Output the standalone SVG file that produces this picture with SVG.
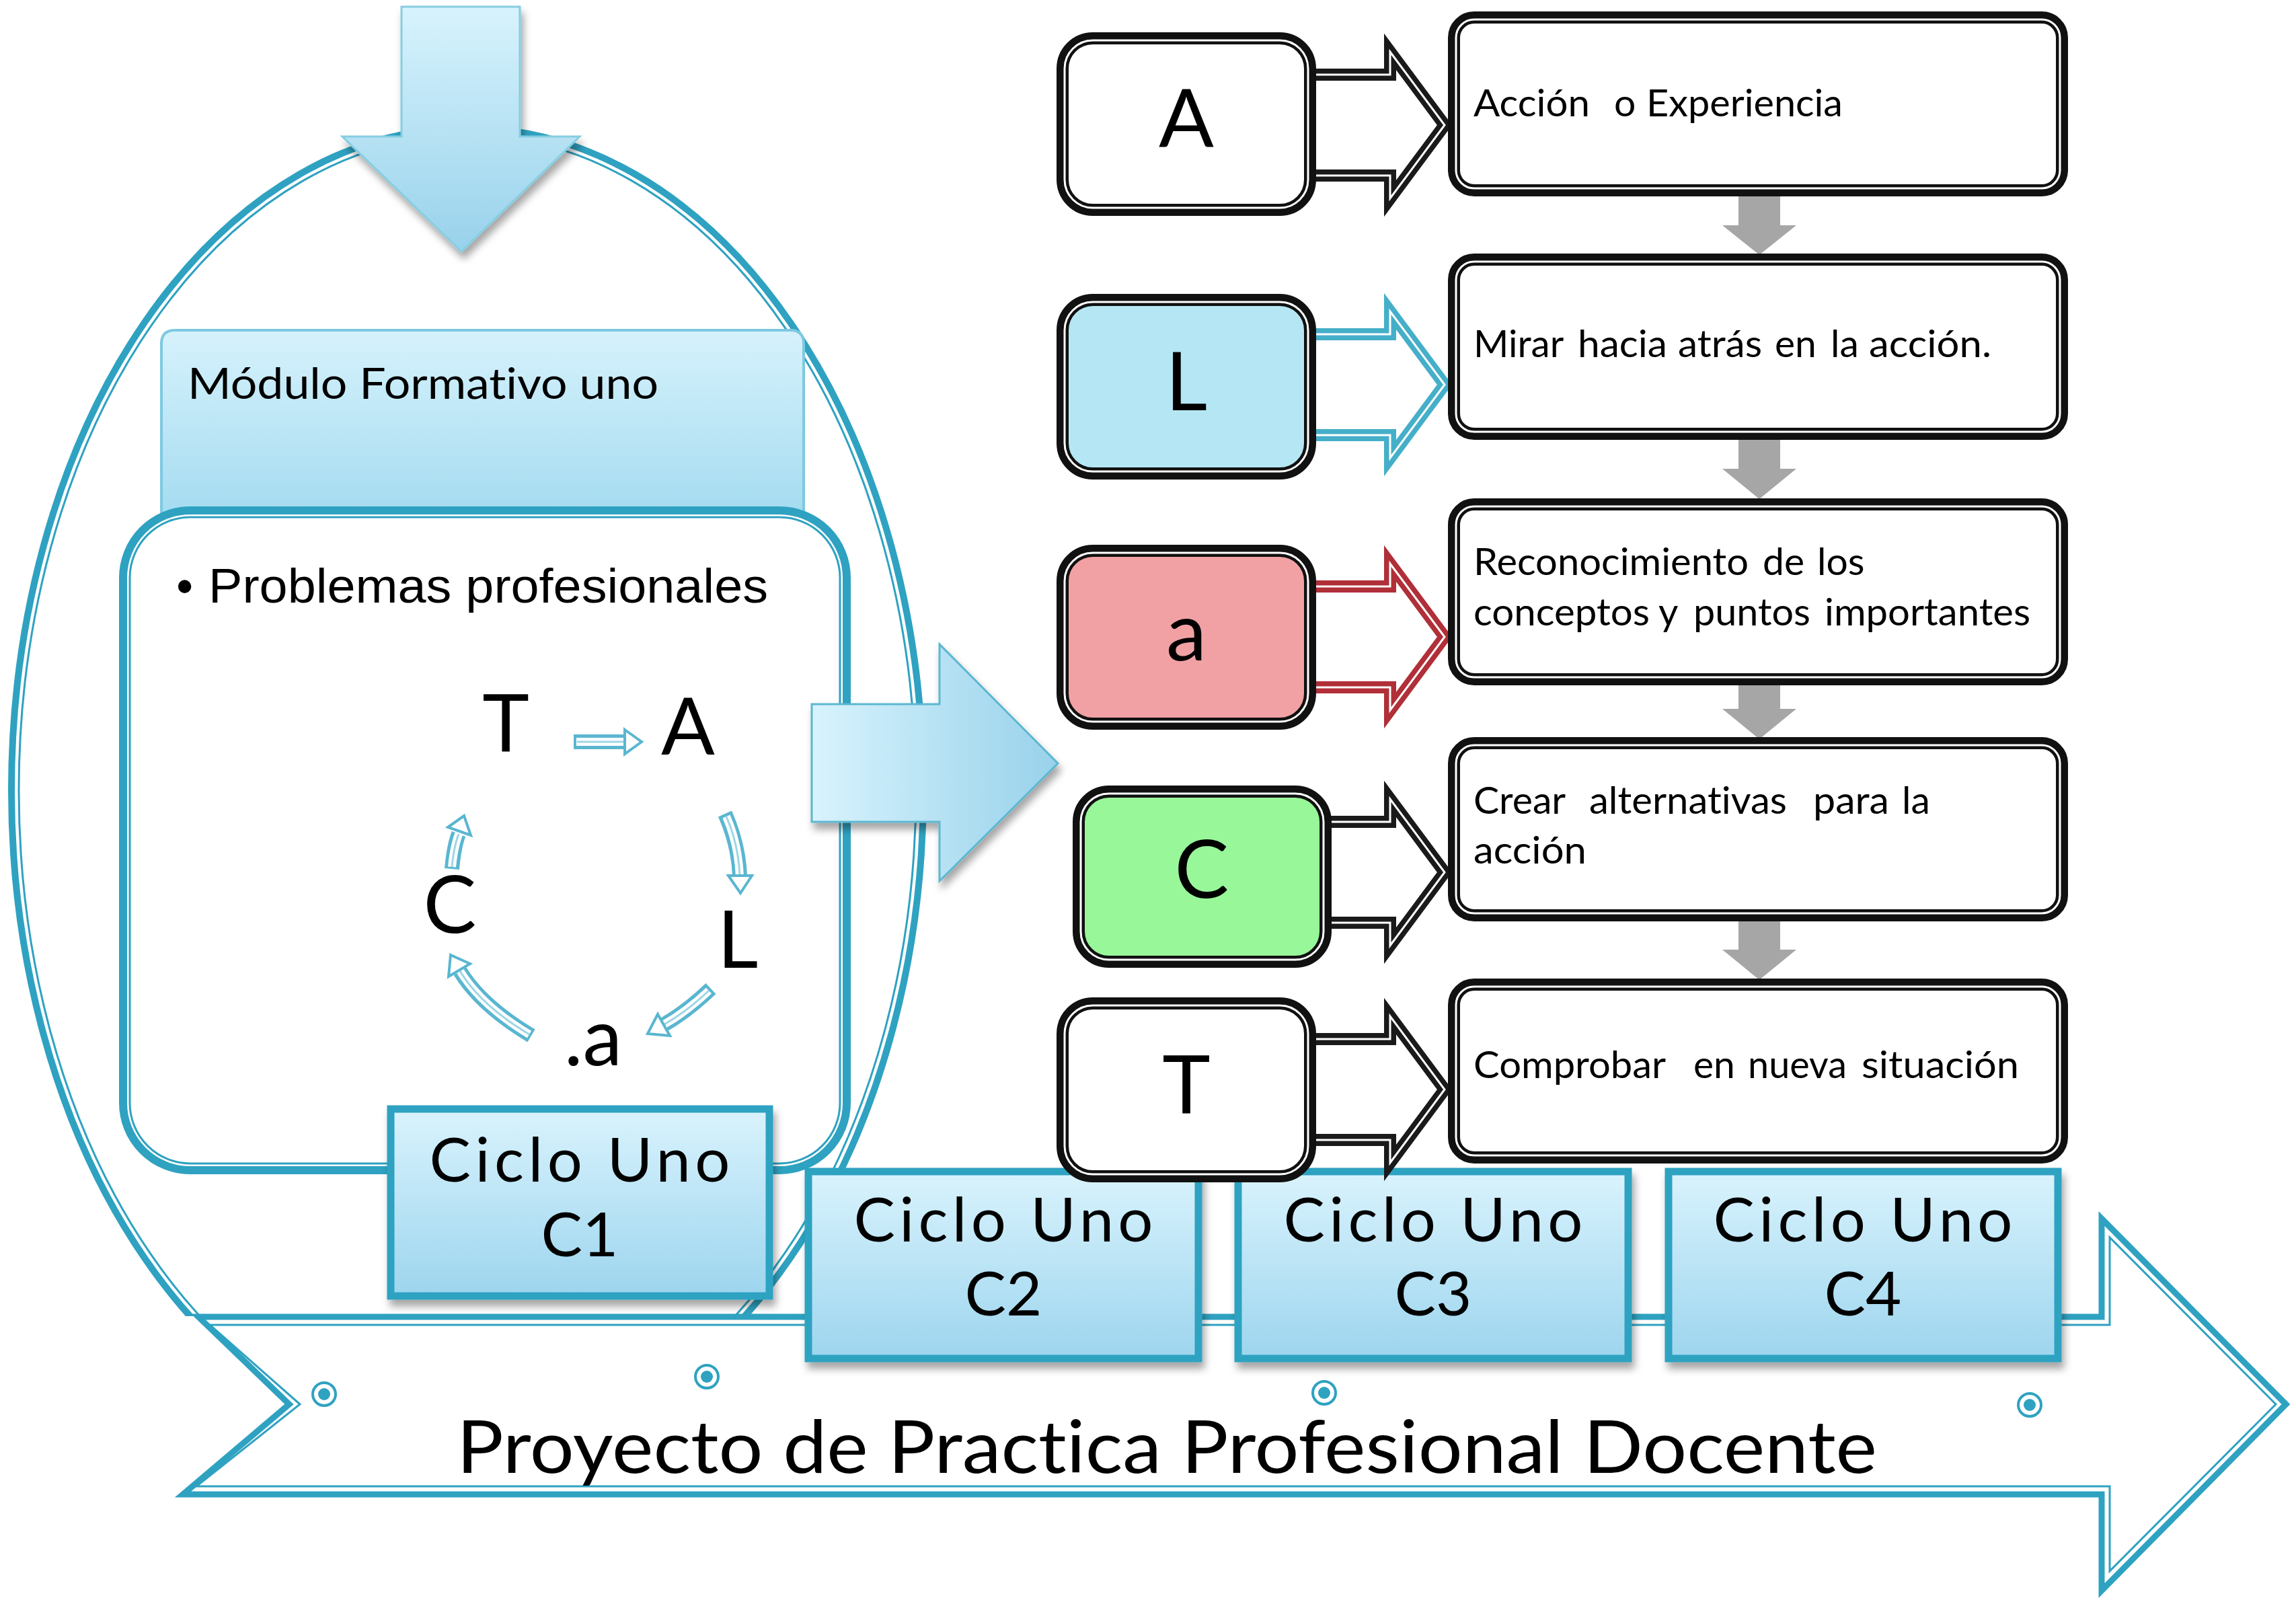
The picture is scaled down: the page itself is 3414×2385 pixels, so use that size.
<svg xmlns="http://www.w3.org/2000/svg" width="3414" height="2385" viewBox="0 0 3414 2385">
<style>
text{font-variant-ligatures:none;font-feature-settings:"liga" 0,"clig" 0;}
.teal{fill:none;stroke:#2FA2C1;}
.lbl{font-family:Lato,"Liberation Sans",sans-serif;fill:#000;}
.big{font-size:121px;text-anchor:middle;}
.desc{font-size:57px;}
.ciclo{font-size:92px;text-anchor:middle;}
.cyc{font-size:118px;text-anchor:middle;}
.lbox{stroke:#111;stroke-width:18;}
.lboxin{fill:none;stroke:#fff;stroke-width:3;}
.cbox{fill:url(#gCiclo);stroke:#2FA2C1;stroke-width:11;filter:url(#sh);}
.garrow{fill:#A6A6A6;}
.blk{stroke-width:18;stroke-linejoin:miter;fill:#fff;}
.blkin{fill:none;stroke:#fff;stroke-width:3;}
.cshaft{fill:none;stroke:#5AB6D0;stroke-width:22;}
.cshaftin{fill:none;stroke:#fff;stroke-width:12;}
.cshaftmid{fill:none;stroke:#9ED6E6;stroke-width:3;}
.chead{fill:#fff;stroke:#5AB6D0;stroke-width:4;stroke-linejoin:miter;}
</style>
<defs>
<linearGradient id="gCiclo" x1="0" y1="0" x2="0" y2="1">
<stop offset="0" stop-color="#D9F3FD"/><stop offset="1" stop-color="#9DD5EE"/>
</linearGradient>
<linearGradient id="gMod" x1="0" y1="0" x2="0" y2="1">
<stop offset="0" stop-color="#D6F2FC"/><stop offset="1" stop-color="#A4DBF0"/>
</linearGradient>
<linearGradient id="gDown" x1="0" y1="0" x2="0" y2="1">
<stop offset="0" stop-color="#D8F3FD"/><stop offset="1" stop-color="#98D2EB"/>
</linearGradient>
<linearGradient id="gRight" x1="0" y1="0" x2="1" y2="0">
<stop offset="0" stop-color="#D8F3FD"/><stop offset="1" stop-color="#98D2EB"/>
</linearGradient>
<filter id="sh" x="-10%" y="-10%" width="130%" height="140%">
<feDropShadow dx="4" dy="10" stdDeviation="6" flood-color="#000" flood-opacity="0.35"/>
</filter>
<clipPath id="eggClip"><rect x="0" y="0" width="3414" height="1957"/></clipPath>
</defs>
<rect width="3414" height="2385" fill="#fff"/>

<!-- Egg outline -->
<g id="egg" clip-path="url(#eggClip)">
<ellipse cx="695" cy="1175" rx="678" ry="985" class="teal" stroke-width="10"/>
<ellipse cx="695" cy="1175" rx="667" ry="974" class="teal" stroke-width="3"/>
</g>

<!-- Top down arrow -->
<g id="down-arrow">
<polygon points="597,10 773,10 773,203 862,203 686,374 509,203 597,203" fill="url(#gDown)" stroke="#86CDE2" stroke-width="3" filter="url(#sh)"/>
</g>

<!-- Modulo box -->
<g id="modulo">
<path d="M240,770 V511 Q240,491 260,491 H1175 Q1195,491 1195,511 V770 Z" fill="url(#gMod)" stroke="#7EC9E0" stroke-width="4"/>
<text class="lbl" x="279" y="593" font-size="63" textLength="700" lengthAdjust="spacingAndGlyphs">Módulo Formativo uno</text>
</g>

<!-- Inner box -->
<g id="problemas">
<rect x="183" y="759" width="1076" height="981" rx="100" fill="#fff" stroke="#2FA2C1" stroke-width="12"/>
<rect x="193" y="769" width="1056" height="961" rx="90" fill="none" stroke="#2FA2C1" stroke-width="3"/>
<text x="262" y="896" font-family="'Liberation Sans',Arial,sans-serif" font-size="72" fill="#000">•</text>
<text x="310" y="896" font-family="'Liberation Sans',Arial,sans-serif" font-size="72" fill="#000" textLength="832" lengthAdjust="spacingAndGlyphs">Problemas profesionales</text>
</g>

<!-- cycle letters -->
<g id="cycle-T"><text class="lbl cyc" x="752" y="1117" font-size="110">T</text></g>
<g id="cycle-A"><text class="lbl cyc" x="1023" y="1122" font-size="127">A</text></g>
<g id="cycle-C"><text class="lbl cyc" x="669" y="1387" font-size="107">C</text></g>
<g id="cycle-L"><text class="lbl cyc" x="1097" y="1439" font-size="127">L</text></g>
<g id="cycle-a"><text class="lbl cyc" x="882" y="1584" font-size="105">.a</text></g>

<!-- Right big arrow -->
<g id="right-arrow">
<polygon points="1207,1047 1397,1047 1397,958 1573,1135 1397,1310 1397,1222 1207,1222" fill="url(#gRight)" stroke="#5DB7D1" stroke-width="3" filter="url(#sh)"/>
</g>

<!-- Bottom big arrow -->
<g id="proyecto">
<polygon points="295,1958 3125,1958 3125,1812 3399,2088 3125,2365 3125,2222 272,2222 430,2088" fill="#fff" stroke="#2FA2C1" stroke-width="9" stroke-linejoin="miter"/>
<polygon points="312,1970 3137,1970 3137,1840 3384,2088 3137,2336 3137,2210 292,2210 446,2088" fill="none" stroke="#2FA2C1" stroke-width="3" stroke-linejoin="miter"/>
<g fill="#fff" stroke="#2FA2C1" stroke-width="4">
<circle cx="482" cy="2073" r="17"/><circle cx="1051" cy="2047" r="17"/><circle cx="1969" cy="2071" r="17"/><circle cx="3018" cy="2089" r="17"/>
</g>
<g fill="#2FA2C1">
<circle cx="482" cy="2073" r="9"/><circle cx="1051" cy="2047" r="9"/><circle cx="1969" cy="2071" r="9"/><circle cx="3018" cy="2089" r="9"/>
</g>
<text class="lbl" x="679" y="2190" font-size="108" textLength="2112" lengthAdjust="spacingAndGlyphs">Proyecto de Practica Profesional Docente</text>
</g>

<!-- Ciclo boxes -->
<g id="ciclo1">
<rect x="581" y="1649" width="563" height="278" class="cbox"/>
<text class="lbl ciclo" x="862" y="1757" textLength="447" lengthAdjust="spacing">Ciclo Uno</text>
<text class="lbl ciclo" x="862" y="1868">C1</text>
</g>
<g id="ciclo2">
<rect x="1202" y="1742" width="580" height="278" class="cbox"/>
<text class="lbl ciclo" x="1492" y="1846" textLength="445" lengthAdjust="spacing">Ciclo Uno</text>
<text class="lbl ciclo" x="1492" y="1956">C2</text>
</g>
<g id="ciclo3">
<rect x="1841" y="1742" width="580" height="278" class="cbox"/>
<text class="lbl ciclo" x="2131" y="1846" textLength="445" lengthAdjust="spacing">Ciclo Uno</text>
<text class="lbl ciclo" x="2131" y="1956">C3</text>
</g>
<g id="ciclo4">
<rect x="2481" y="1742" width="579" height="278" class="cbox"/>
<text class="lbl ciclo" x="2770" y="1846" textLength="445" lengthAdjust="spacing">Ciclo Uno</text>
<text class="lbl ciclo" x="2770" y="1956">C4</text>
</g>

<!-- Connectors -->
<g id="connectors">
<!-- cycle arrows -->
<path class="cshaft" d="M853,1103 H930"/><path class="cshaftin" d="M857,1103 H932"/><path class="cshaftmid" d="M858,1103 H930"/>
<polygon class="chead" points="929,1085 954,1103 929,1121"/>
<path class="cshaft" d="M1078,1210 Q1098,1255 1100,1302"/><path class="cshaftin" d="M1080,1214 Q1098,1255 1100,1304"/><path class="cshaftmid" d="M1080,1214 Q1098,1255 1100,1302"/>
<polygon class="chead" points="1083,1302 1101,1328 1118,1302"/>
<path class="cshaft" d="M1057,1470 Q1020,1505 988,1523"/><path class="cshaftin" d="M1054,1473 Q1020,1505 986,1524"/><path class="cshaftmid" d="M1054,1473 Q1020,1505 988,1523"/>
<polygon class="chead" points="996,1540 963,1537 978,1508"/>
<path class="cshaft" d="M790,1540 Q715,1495 684,1444"/><path class="cshaftin" d="M787,1538 Q715,1495 683,1442"/><path class="cshaftmid" d="M787,1538 Q715,1495 684,1444"/>
<polygon class="chead" points="699,1433 670,1420 667,1452"/>
<path class="cshaft" d="M672,1292 Q675,1258 682,1240"/><path class="cshaftin" d="M672,1289 Q675,1258 683,1238"/><path class="cshaftmid" d="M672,1289 Q675,1258 682,1240"/>
<polygon class="chead" points="700,1242 690,1213 666,1230"/>

<!-- block arrows letter -> description -->
<polygon class="blk" stroke="#1A1A1A" points="1935,111 2067,111 2067,77 2148,186 2067,295 2067,261 1935,261"/>
<polygon class="blkin" points="1935,111 2067,111 2067,77 2148,186 2067,295 2067,261 1935,261"/>
<polygon class="blk" stroke="#45AFC9" points="1935,497 2067,497 2067,463 2148,572 2067,681 2067,647 1935,647"/>
<polygon class="blkin" points="1935,497 2067,497 2067,463 2148,572 2067,681 2067,647 1935,647"/>
<polygon class="blk" stroke="#B02F38" points="1935,872 2067,872 2067,838 2148,947 2067,1056 2067,1022 1935,1022"/>
<polygon class="blkin" points="1935,872 2067,872 2067,838 2148,947 2067,1056 2067,1022 1935,1022"/>
<polygon class="blk" stroke="#1A1A1A" points="1960,1222 2067,1222 2067,1188 2148,1297 2067,1406 2067,1372 1960,1372"/>
<polygon class="blkin" points="1960,1222 2067,1222 2067,1188 2148,1297 2067,1406 2067,1372 1960,1372"/>
<polygon class="blk" stroke="#1A1A1A" points="1935,1545 2067,1545 2067,1511 2148,1620 2067,1729 2067,1695 1935,1695"/>
<polygon class="blkin" points="1935,1545 2067,1545 2067,1511 2148,1620 2067,1729 2067,1695 1935,1695"/>

<!-- gray arrows between descriptions -->
<polygon class="garrow" points="2585,289 2647,289 2647,335 2671,335 2616,379 2561,335 2585,335"/>
<polygon class="garrow" points="2585,651 2647,651 2647,697 2671,697 2616,742 2561,697 2585,697"/>
<polygon class="garrow" points="2585,1016 2647,1016 2647,1054 2671,1054 2616,1099 2561,1054 2585,1054"/>
<polygon class="garrow" points="2585,1367 2647,1367 2647,1412 2671,1412 2616,1457 2561,1412 2585,1412"/>
</g>

<!-- Letter boxes -->
<g id="box-A">
<rect x="1580" y="57" width="368" height="255" rx="45" fill="#fff" class="lbox"/>
<rect x="1583" y="60" width="362" height="249" rx="42" class="lboxin"/>
<text class="lbl big" x="1764" y="219">A</text>
</g>
<g id="box-L">
<rect x="1580" y="446" width="368" height="258" rx="45" fill="#B4E7F3" class="lbox"/>
<rect x="1583" y="449" width="362" height="252" rx="42" class="lboxin"/>
<text class="lbl big" x="1764" y="610">L</text>
</g>
<g id="box-a">
<rect x="1580" y="819" width="368" height="257" rx="45" fill="#F1A1A4" class="lbox"/>
<rect x="1583" y="822" width="362" height="251" rx="42" class="lboxin"/>
<text class="lbl big" x="1764" y="982">a</text>
</g>
<g id="box-C">
<rect x="1604" y="1177" width="367" height="253" rx="45" fill="#98F799" class="lbox"/>
<rect x="1607" y="1180" width="361" height="247" rx="42" class="lboxin"/>
<text class="lbl big" x="1787" y="1335" font-size="116">C</text>
</g>
<g id="box-T">
<rect x="1580" y="1492" width="368" height="257" rx="45" fill="#fff" class="lbox"/>
<rect x="1583" y="1495" width="362" height="251" rx="42" class="lboxin"/>
<text class="lbl big" x="1764" y="1656">T</text>
</g>

<!-- Description boxes -->
<g id="desc-1">
<rect x="2162" y="26" width="904" height="257" rx="30" fill="#fff" class="lbox"/>
<rect x="2165" y="29" width="898" height="251" rx="27" class="lboxin"/>
<text class="lbl desc" y="173"><tspan x="2191" textLength="173" lengthAdjust="spacingAndGlyphs">Acción</tspan> <tspan x="2400">o</tspan> <tspan x="2448" textLength="292" lengthAdjust="spacingAndGlyphs">Experiencia</tspan></text>
</g>
<g id="desc-2">
<rect x="2162" y="386" width="904" height="259" rx="30" fill="#fff" class="lbox"/>
<rect x="2165" y="389" width="898" height="253" rx="27" class="lboxin"/>
<text class="lbl desc" y="531"><tspan x="2191" textLength="133" lengthAdjust="spacingAndGlyphs">Mirar</tspan> <tspan x="2346" textLength="133" lengthAdjust="spacingAndGlyphs">hacia</tspan> <tspan x="2495" textLength="125" lengthAdjust="spacingAndGlyphs">atrás</tspan> <tspan x="2639">en</tspan> <tspan x="2722">la</tspan> <tspan x="2779" textLength="182" lengthAdjust="spacingAndGlyphs">acción.</tspan></text>
</g>
<g id="desc-3">
<rect x="2162" y="750" width="904" height="260" rx="30" fill="#fff" class="lbox"/>
<rect x="2165" y="753" width="898" height="254" rx="27" class="lboxin"/>
<text class="lbl desc" y="855"><tspan x="2191" textLength="409" lengthAdjust="spacingAndGlyphs">Reconocimiento</tspan> <tspan x="2621">de</tspan> <tspan x="2702">los</tspan></text>
<text class="lbl desc" y="930"><tspan x="2191" textLength="262" lengthAdjust="spacingAndGlyphs">conceptos</tspan> <tspan x="2466">y</tspan> <tspan x="2518" textLength="174" lengthAdjust="spacingAndGlyphs">puntos</tspan> <tspan x="2713" textLength="306" lengthAdjust="spacingAndGlyphs">importantes</tspan></text>
</g>
<g id="desc-4">
<rect x="2162" y="1105" width="904" height="256" rx="30" fill="#fff" class="lbox"/>
<rect x="2165" y="1108" width="898" height="250" rx="27" class="lboxin"/>
<text class="lbl desc" y="1210"><tspan x="2191" textLength="136" lengthAdjust="spacingAndGlyphs">Crear</tspan> <tspan x="2363" textLength="294" lengthAdjust="spacingAndGlyphs">alternativas</tspan> <tspan x="2696" textLength="113" lengthAdjust="spacingAndGlyphs">para</tspan> <tspan x="2828">la</tspan></text>
<text class="lbl desc" x="2191" y="1284" textLength="168" lengthAdjust="spacingAndGlyphs">acción</text>
</g>
<g id="desc-5">
<rect x="2162" y="1464" width="904" height="257" rx="30" fill="#fff" class="lbox"/>
<rect x="2165" y="1467" width="898" height="251" rx="27" class="lboxin"/>
<text class="lbl desc" y="1603"><tspan x="2191" textLength="285" lengthAdjust="spacingAndGlyphs">Comprobar</tspan> <tspan x="2518">en</tspan> <tspan x="2599" textLength="147" lengthAdjust="spacingAndGlyphs">nueva</tspan> <tspan x="2768" textLength="234" lengthAdjust="spacingAndGlyphs">situación</tspan></text>
</g>
</svg>
